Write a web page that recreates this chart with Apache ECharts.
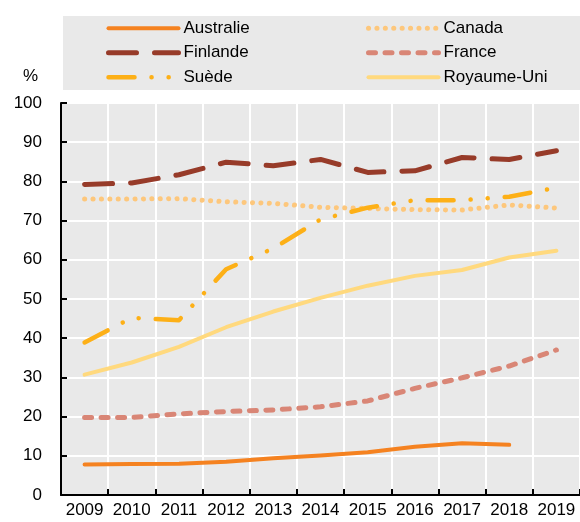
<!DOCTYPE html>
<html>
<head>
<meta charset="utf-8">
<script src="https://cdn.jsdelivr.net/npm/echarts@6/dist/echarts.min.js"></script>
<style>
html,body{margin:0;padding:0;background:#fff;}
#c{width:580px;height:522px;}
</style>
</head>
<body>
<div id="c"></div>
<script>
const years = ['2009','2010','2011','2012','2013','2014','2015','2016','2017','2018','2019'];
const australie = [7.8, 7.9, 8.0, 8.5, 9.4, 10.1, 10.9, 12.3, 13.2, 12.8, null];
const canada = [75.5, 75.5, 75.6, 74.8, 74.4, 73.4, 73.1, 72.8, 72.7, 74.0, 73.2];
const finlande = [79.2, 79.6, 81.7, 84.9, 84.0, 85.6, 82.3, 82.7, 86.1, 85.6, 87.8];
const france = [19.8, 19.8, 20.7, 21.3, 21.7, 22.5, 24.0, 27.2, 29.9, 32.9, 37.0];
const suede = [38.9, 45.2, 44.6, 57.6, 62.9, 70.3, 73.3, 75.2, 75.2, 76.1, 78.4];
const royaumeUni = [30.7, 33.8, 37.8, 42.8, 46.8, 50.3, 53.4, 55.9, 57.4, 60.6, 62.3];
const yTicks = {min: 0, max: 100, interval: 10};

const FONT = '"Liberation Sans Narrow", "Arial Narrow", "Liberation Sans", Arial, sans-serif';
const FS = 17;

function line(name, data, color, width, dash) {
  return {
    name: name, type: 'line', data: data, symbol: 'none', connectNulls: false,
    lineStyle: {color: color, width: width, type: dash, cap: 'round', join: 'round'},
    itemStyle: {color: color},
    emphasis: {disabled: true},
    animation: false
  };
}

const chart = echarts.init(document.getElementById('c'), null, {renderer: 'canvas'});
const legendCommon = {
  orient: 'vertical', padding: 0, itemGap: 7.5, itemWidth: 70, itemHeight: 14,
  textStyle: {fontFamily: FONT, fontSize: FS, color: '#000'},
  lineStyle: {width: 'inherit', type: 'inherit', cap: 'round'},
  itemStyle: {opacity: 0},
  selectedMode: false
};
chart.setOption({
  animation: false,
  textStyle: {fontFamily: FONT},
  graphic: [{
    type: 'rect', left: 63, top: 16, z: -10,
    shape: {width: 517, height: 74},
    style: {fill: '#E9E9E9'}
  }],
  title: {text: '%', left: 23, top: 68, padding: 0,
    textStyle: {fontFamily: FONT, fontSize: FS, fontWeight: 'normal', color: '#000'}},
  legend: [
    Object.assign({}, legendCommon, {left: 106, top: 19.8, data: ['Australie', 'Finlande', 'Suède']}),
    Object.assign({}, legendCommon, {left: 366, top: 19.8, data: ['Canada', 'France', 'Royaume-Uni']})
  ],
  grid: {left: 61, right: 0, top: 103, bottom: 27, show: true, backgroundColor: '#E9E9E9', borderWidth: 0},
  xAxis: {
    type: 'category', data: years, boundaryGap: true,
    axisLine: {show: true, lineStyle: {color: '#000', width: 2}},
    axisTick: {show: true, inside: true, length: 6, interval: 0, lineStyle: {color: '#000', width: 2}},
    splitLine: {show: true, interval: 0, lineStyle: {color: '#fff', width: 2}},
    axisLabel: {interval: 0, fontFamily: FONT, fontSize: FS, color: '#000', margin: 7}
  },
  yAxis: {
    type: 'value', min: yTicks.min, max: yTicks.max, interval: yTicks.interval,
    axisLine: {show: true, lineStyle: {color: '#000', width: 2}},
    axisTick: {show: true, inside: true, length: 6, lineStyle: {color: '#000', width: 2}},
    splitLine: {show: true, lineStyle: {color: '#fff', width: 2}},
    axisLabel: {fontFamily: FONT, fontSize: FS, color: '#000', margin: 19}
  },
  series: [
    line('Australie', australie, '#F58220', 4, 'solid'),
    line('Canada', canada, '#FDC77C', 5, [0.1, 8.3]),
    line('Finlande', finlande, '#973B29', 5, [28, 18]),
    line('France', france, '#D98676', 5, [7, 9.5]),
    line('Suède', suede, '#FDB017', 4.5, [26, 17, 0.1, 17, 0.1, 17]),
    line('Royaume-Uni', royaumeUni, '#FFD97E', 4, 'solid')
  ]
});
</script>
</body>
</html>
